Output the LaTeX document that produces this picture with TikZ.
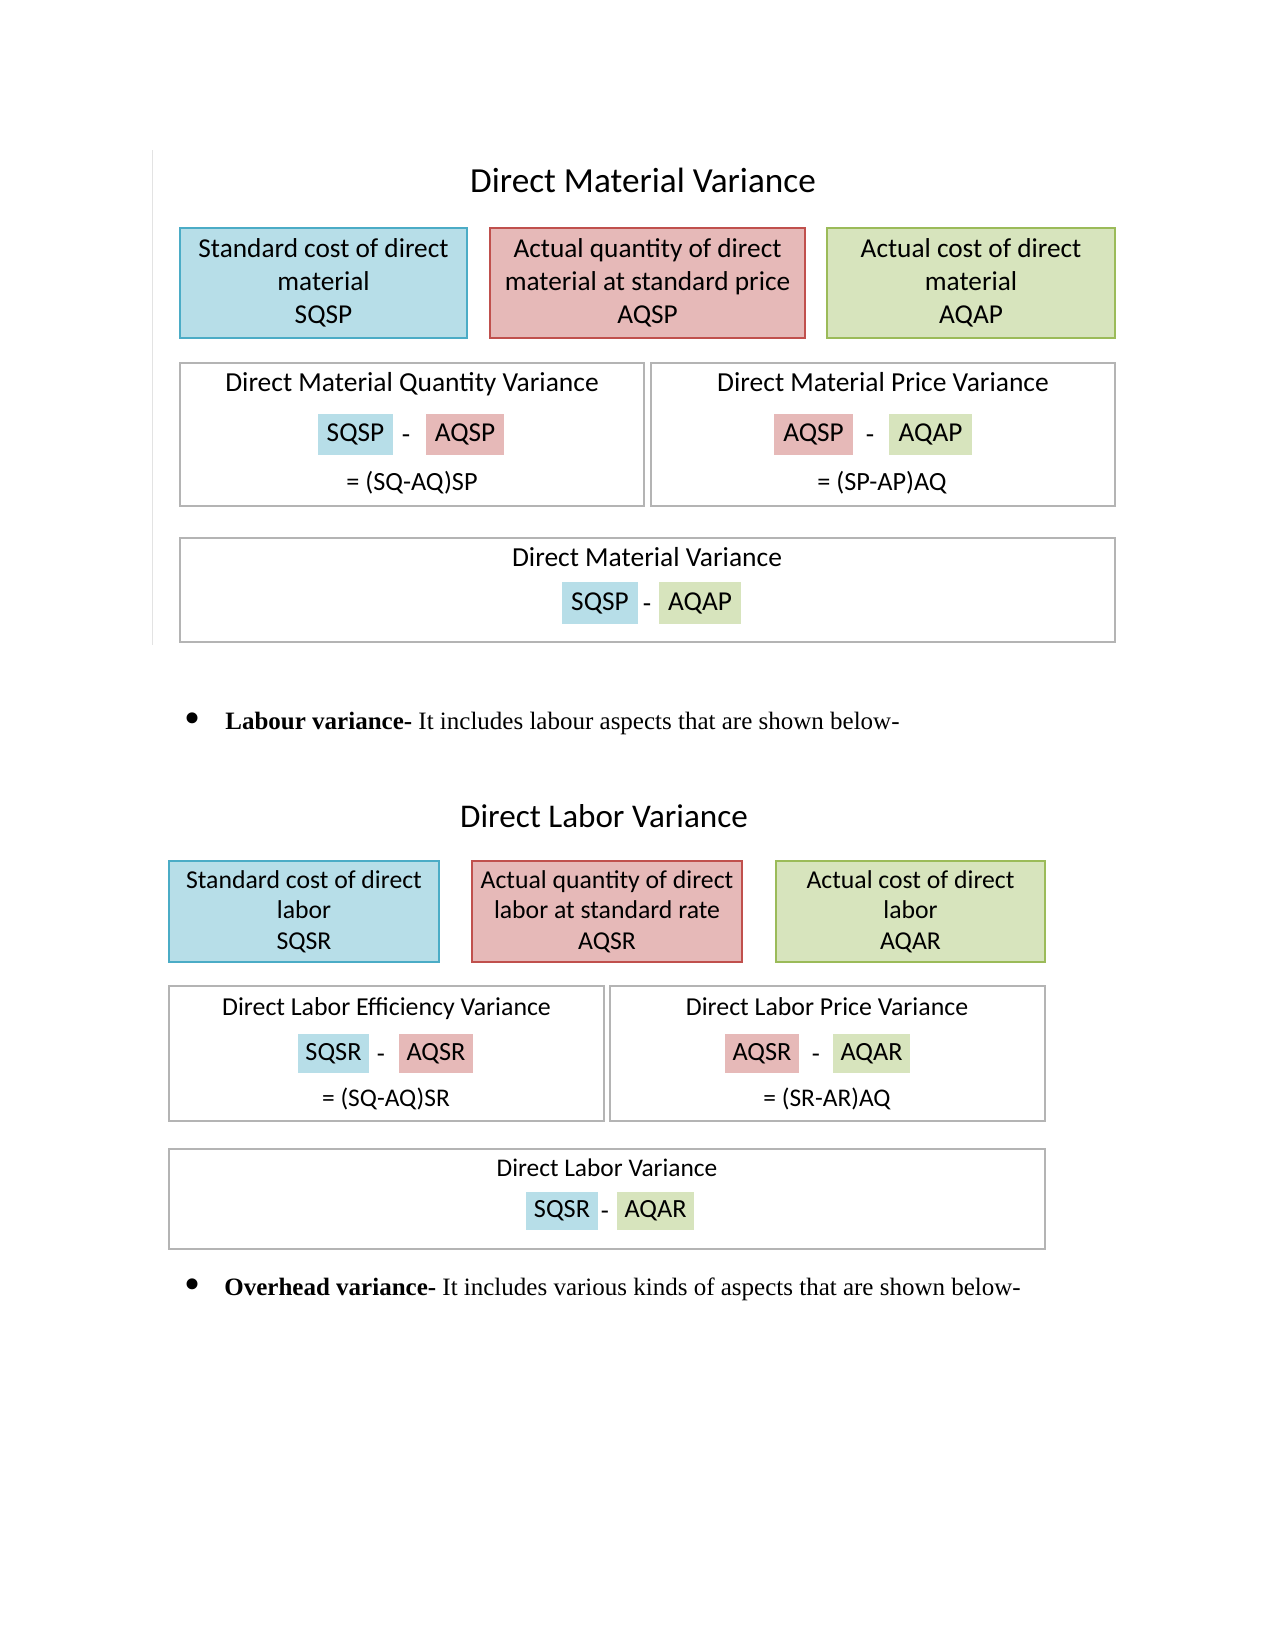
\documentclass[tikz,border=0pt]{standalone}
\usepackage{fontspec}
\setmainfont{Liberation Serif}
\newfontfamily\calib{Carlito}
\definecolor{bfill}{HTML}{B7DEE8}
\definecolor{bline}{HTML}{4BACC6}
\definecolor{rfill}{HTML}{E6B9B8}
\definecolor{rline}{HTML}{C0504D}
\definecolor{gfill}{HTML}{D7E4BD}
\definecolor{gline}{HTML}{9BBB59}
\definecolor{gbox}{HTML}{B4B4B4}
\tikzset{
  big/.style={inner sep=0pt, line width=0.9pt, align=center, font=\calib\fontsize{13.1pt}{15.8pt}\selectfont},
  bigl/.style={inner sep=0pt, line width=0.9pt, align=center, font=\calib\fontsize{12.35pt}{14.6pt}\selectfont},
  bluebox/.style={draw=bline, fill=bfill},
  redbox/.style={draw=rline, fill=rfill},
  greenbox/.style={draw=gline, fill=gfill},
  graybox/.style={draw=gbox, line width=1pt, inner sep=0pt},
  chip/.style={inner sep=0pt, font=\calib\fontsize{13.1pt}{15pt}\selectfont},
  chipl/.style={inner sep=0pt, font=\calib\fontsize{12.6pt}{15pt}\selectfont},
  dashm/.style={inner sep=0pt, anchor=base, font=\calib\fontsize{13.1pt}{15pt}\selectfont},
  dashl/.style={inner sep=0pt, anchor=base, font=\calib\fontsize{12.6pt}{15pt}\selectfont},
  lbl/.style={inner sep=0pt, anchor=base, font=\calib\fontsize{13.2pt}{15pt}\selectfont},
  lbll/.style={inner sep=0pt, anchor=base, font=\calib\fontsize{12.4pt}{15pt}\selectfont},
  frm/.style={inner sep=0pt, anchor=base, font=\calib\fontsize{12.6pt}{15pt}\selectfont},
  frml/.style={inner sep=0pt, anchor=base, font=\calib\fontsize{12.2pt}{15pt}\selectfont},
  ttl/.style={inner sep=0pt, anchor=base, font=\calib\fontsize{16.9pt}{19pt}\selectfont},
  ttll/.style={inner sep=0pt, anchor=base, font=\calib\fontsize{15.9pt}{19pt}\selectfont},
  body/.style={inner sep=0pt, anchor=base west, font=\fontsize{12pt}{14pt}\selectfont},
  bul/.style={inner sep=0pt, font=\fontsize{22pt}{24pt}\selectfont},
}
\begin{document}
\begin{tikzpicture}[x=0.48pt,y=-0.48pt]
\useasboundingbox (0,0) rectangle (1275,1651);
% ---------- Direct Material Variance ----------
\coordinate (vlt) at (152.7,150);
\coordinate (vlb) at (152.7,645);
\draw[gray!22, line width=0.7pt] (vlt) -- (vlb);
\node[ttl] (mtitle) at (643,192.7) {Direct Material Variance};
\node[big, bluebox, minimum width=287*0.48pt, minimum height=110*0.48pt] (mb1) at (323.5,283) {Standard cost of direct\\material\\SQSP};
\node[big, redbox, minimum width=315*0.48pt, minimum height=110*0.48pt] (mb2) at (647.5,283) {Actual quantity of direct\\material at standard price\\AQSP};
\node[big, greenbox, minimum width=288*0.48pt, minimum height=110*0.48pt] (mb3) at (971,283) {Actual cost of direct\\material\\AQAP};
% row 2
\node[graybox, minimum width=464*0.48pt, minimum height=143*0.48pt] (mq) at (412,434.5) {};
\node[graybox, minimum width=464*0.48pt, minimum height=143*0.48pt] (mp) at (883,434.5) {};
\node[lbl] (mqt) at (412,391.7) {Direct Material Quantity Variance};
\node[lbl] (mpt) at (883,391.7) {Direct Material Price Variance};
\node[chip, fill=bfill, minimum width=75*0.48pt, minimum height=41*0.48pt] (mq1) at (355.5,434.5) {SQSP};
\node[dashm] (mqd) at (406,443) {-};
\node[chip, fill=rfill, minimum width=78*0.48pt, minimum height=41*0.48pt] (mq2) at (465,434.5) {AQSP};
\node[chip, fill=rfill, minimum width=79*0.48pt, minimum height=41*0.48pt] (mp1) at (813.5,434.5) {AQSP};
\node[dashm] (mpd) at (870,443) {-};
\node[chip, fill=gfill, minimum width=83*0.48pt, minimum height=41*0.48pt] (mp2) at (930.5,434.5) {AQAP};
\node[frm] (mqf) at (412,490) {= (SQ-AQ)SP};
\node[frm] (mpf) at (882,490) {= (SP-AP)AQ};
% row 3
\node[graybox, minimum width=935*0.48pt, minimum height=104*0.48pt] (mv) at (647.5,590) {};
\node[lbl] (mvt) at (647,566.7) {Direct Material Variance};
\node[chip, fill=bfill, minimum width=75.5*0.48pt, minimum height=42*0.48pt] (mv1) at (600,603) {SQSP};
\node[dashm] (mvd) at (647,612) {-};
\node[chip, fill=gfill, minimum width=82*0.48pt, minimum height=42*0.48pt] (mv2) at (700,603) {AQAP};
% ---------- Labour text ----------
\node[bul] (b1) at (192.5,723) {\textbullet};
\node[body] (t1) at (225,729) {\textbf{Labour variance-} It includes labour aspects that are shown below-};
% ---------- Direct Labor Variance ----------
\node[ttll] (ltitle) at (604,827.3) {Direct Labor Variance};
\node[bigl, bluebox, minimum width=270*0.48pt, minimum height=101*0.48pt] (lb1) at (304,911.5) {Standard cost of direct\\labor\\SQSR};
\node[bigl, redbox, minimum width=270*0.48pt, minimum height=101*0.48pt] (lb2) at (607,911.5) {Actual quantity of direct\\labor at standard rate\\AQSR};
\node[bigl, greenbox, minimum width=269*0.48pt, minimum height=101*0.48pt] (lb3) at (910.5,911.5) {Actual cost of direct\\labor\\AQAR};
% row 2
\node[graybox, minimum width=435*0.48pt, minimum height=135*0.48pt] (le) at (386.5,1053.5) {};
\node[graybox, minimum width=435*0.48pt, minimum height=135*0.48pt] (lp) at (827.5,1053.5) {};
\node[lbll] (let) at (386.5,1015) {Direct Labor Efficiency Variance};
\node[lbll] (lpt) at (827,1015) {Direct Labor Price Variance};
\node[chipl, fill=bfill, minimum width=71*0.48pt, minimum height=39*0.48pt] (le1) at (333.5,1053.5) {SQSR};
\node[dashl] (led) at (381,1062) {-};
\node[chipl, fill=rfill, minimum width=74*0.48pt, minimum height=39*0.48pt] (le2) at (436,1053.5) {AQSR};
\node[chipl, fill=rfill, minimum width=74*0.48pt, minimum height=39*0.48pt] (lp1) at (762,1053.5) {AQSR};
\node[dashl] (lpd) at (816,1062) {-};
\node[chipl, fill=gfill, minimum width=77*0.48pt, minimum height=39*0.48pt] (lp2) at (871.5,1053.5) {AQAR};
\node[frml] (lef) at (386,1106.7) {= (SQ-AQ)SR};
\node[frml] (lpf) at (827,1106.7) {= (SR-AR)AQ};
% row 3
\node[graybox, minimum width=876*0.48pt, minimum height=100*0.48pt] (lv) at (607,1199) {};
\node[frml] (lvt) at (607,1176.7) {Direct Labor Variance};
\node[chipl, fill=bfill, minimum width=72*0.48pt, minimum height=38*0.48pt] (lv1) at (562,1211) {SQSR};
\node[dashl] (lvd) at (605,1219.5) {-};
\node[chipl, fill=gfill, minimum width=77*0.48pt, minimum height=38*0.48pt] (lv2) at (655.5,1211) {AQAR};
% ---------- Overhead text ----------
\node[bul] (b2) at (192.5,1289) {\textbullet};
\node[body] (t2) at (224,1295) {\textbf{Overhead variance-} It includes various kinds of aspects that are shown below-};
\end{tikzpicture}
\end{document}
